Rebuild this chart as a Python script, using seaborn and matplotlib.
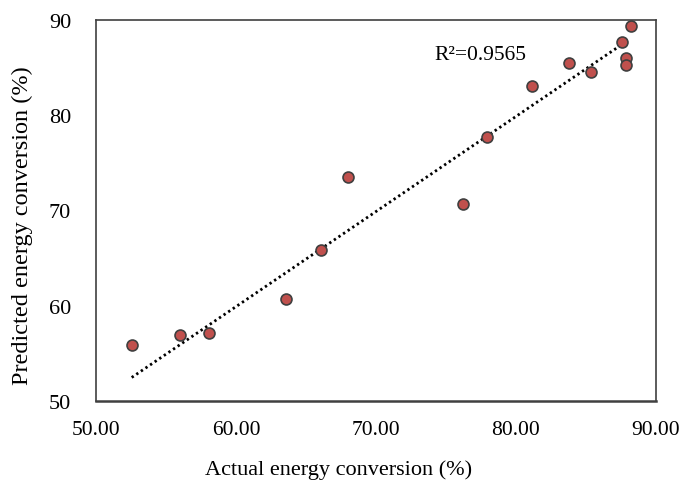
import matplotlib
matplotlib.use("Agg")
import matplotlib.pyplot as plt
import seaborn as sns
import pandas as pd
import numpy as np

actual = [52.55, 56.0, 58.1, 63.6, 66.07, 68.0, 76.23, 77.94, 81.17, 83.75, 85.37, 87.54, 87.86, 87.89, 88.23]
predicted = [55.84, 56.9, 57.14, 60.67, 65.85, 73.55, 70.72, 77.75, 83.1, 85.52, 84.58, 87.69, 86.05, 85.28, 89.33]
trend_x_range = [52.55, 87.54]
x_ticks = [50, 60, 70, 80, 90]
y_ticks = [50, 60, 70, 80, 90]
r2_label = "R²=0.9565"

df = pd.DataFrame({"actual": actual, "predicted": predicted})

# Linear trendline with intercept fixed at zero (as in the source chart)
xa = np.asarray(actual)
ya = np.asarray(predicted)
slope = float(np.sum(xa * ya) / np.sum(xa * xa))
trend = pd.DataFrame({"actual": trend_x_range})
trend["predicted"] = slope * trend["actual"]

sns.set_style("white")
plt.rcParams['font.family'] = ['Liberation Serif', 'DejaVu Serif']
plt.rcParams['text.color'] = 'black'
plt.rcParams['xtick.color'] = 'black'
plt.rcParams['ytick.color'] = 'black'
plt.rcParams['axes.labelcolor'] = 'black'

fig = plt.figure(figsize=(6.83, 4.89), dpi=100)
ax = fig.add_axes([96/683, 1 - 402/489, (656-96)/683, (402-21)/489])

sns.lineplot(data=trend, x="actual", y="predicted", ax=ax, color="black", lw=2.0,
             linestyle=(0, (0.85, 1.15)), zorder=2)
sns.scatterplot(data=df, x="actual", y="predicted", ax=ax, s=62, color="#C0504D",
                edgecolor="#3F3F3F", linewidth=1.2, zorder=3)

ax.set_xlim(50, 90)
ax.set_ylim(50, 90)
ax.set_xticks(x_ticks)
ax.set_xticklabels([f"{v:.2f}" for v in x_ticks], fontsize=15.5)
ax.set_yticks(y_ticks)
ax.set_yticklabels([str(v) for v in y_ticks], fontsize=16)
ax.tick_params(axis='both', length=0)
ax.tick_params(axis='x', pad=14)
ax.tick_params(axis='y', pad=18)

ax.set_xlabel("Actual energy conversion (%)", fontsize=16)
ax.set_ylabel("Predicted energy conversion (%)", fontsize=17.5)
ax.xaxis.set_label_coords(0.433, -0.178)
ax.xaxis.label.set_va('center')
ax.yaxis.set_label_coords(-0.132, 0.462)
ax.yaxis.label.set_va('center')

for sp in ax.spines.values():
    sp.set_color("#404040")
    sp.set_linewidth(1.2)
ax.spines['bottom'].set_linewidth(1.8)

ax.text(74.17, 86.4, r2_label, fontsize=15.5, va='center', ha='left')

fig.savefig("out.png", dpi=100)
